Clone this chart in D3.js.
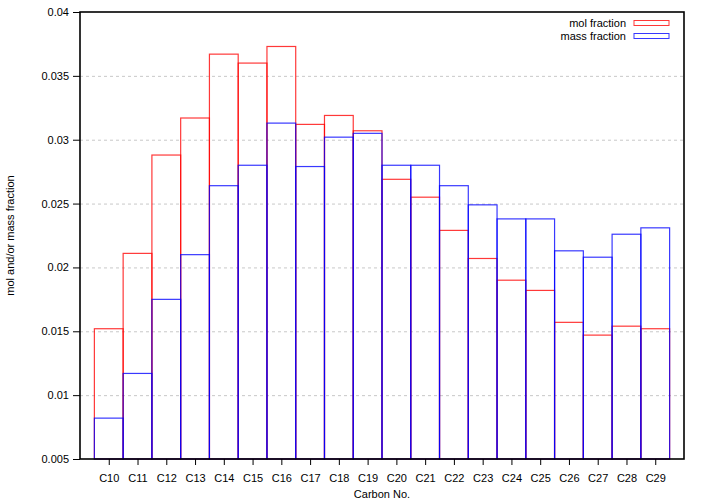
<!DOCTYPE html>
<html>
<head>
<meta charset="utf-8">
<script src="https://cdn.jsdelivr.net/npm/d3@7"></script>
<style>
  body { margin: 0; background: #fff; }
  text { font-family: "Liberation Sans", Arial, sans-serif; font-size: 11px; fill: #000; }
</style>
</head>
<body>
<svg width="705" height="504"></svg>
<script>
const categories = ['C10','C11','C12','C13','C14','C15','C16','C17','C18','C19',
                    'C20','C21','C22','C23','C24','C25','C26','C27','C28','C29'];
const molFraction = [0.0152, 0.0211, 0.0288, 0.0317, 0.0367, 0.0360, 0.0373, 0.0312, 0.0319, 0.0307,
                     0.0269, 0.0255, 0.0229, 0.0207, 0.0190, 0.0182, 0.0157, 0.0147, 0.0154, 0.0152];
const massFraction = [0.0082, 0.0117, 0.0175, 0.0210, 0.0264, 0.0280, 0.0313, 0.0279, 0.0302, 0.0305,
                      0.0280, 0.0280, 0.0264, 0.0249, 0.0238, 0.0238, 0.0213, 0.0208, 0.0226, 0.0231];
const yTicks = [0.005, 0.01, 0.015, 0.02, 0.025, 0.03, 0.035, 0.04];
const series = [
  {name: 'mol fraction', values: molFraction, color: '#ff0000'},
  {name: 'mass fraction', values: massFraction, color: '#0000ff'}
];

const svg = d3.select('svg');
const plot = {left: 80, right: 684, top: 12, bottom: 459};

const x = d3.scaleLinear().domain([-1, categories.length]).range([plot.left, plot.right]);
const y = d3.scaleLinear().domain([0.005, 0.04]).range([plot.bottom, plot.top]);

// grid
svg.append('g')
  .selectAll('line')
  .data(yTicks.slice(1, -1))
  .enter().append('line')
    .attr('x1', plot.left).attr('x2', plot.right)
    .attr('y1', d => y(d) + 0.5).attr('y2', d => y(d) + 0.5)
    .attr('stroke', '#c8c8c8')
    .attr('stroke-dasharray', '3,3');

// boxes, mass drawn over mol
const bars = svg.append('g').attr('class', 'bars');
series.forEach(s => {
  bars.append('g')
    .selectAll('rect')
    .data(s.values)
    .enter().append('rect')
      .attr('x', (d, i) => x(i - 0.5))
      .attr('width', x(0.5) - x(-0.5))
      .attr('y', d => y(d))
      .attr('height', d => plot.bottom - y(d))
      .attr('fill', 'none')
      .attr('stroke', s.color)
      .attr('stroke-opacity', 0.78)
      .attr('stroke-width', 1.2);
});

// axes
const yAxis = svg.append('g')
  .attr('transform', `translate(${plot.left},0)`)
  .call(d3.axisLeft(y).tickValues(yTicks).tickFormat(d3.format('')).tickSize(7).tickPadding(4));
const xAxis = svg.append('g')
  .attr('transform', `translate(0,${plot.bottom})`)
  .call(d3.axisBottom(x).tickValues(d3.range(categories.length))
    .tickFormat(i => categories[i]).tickSize(6).tickPadding(9));
[xAxis, yAxis].forEach(a => {
  a.select('.domain').remove();
  a.selectAll('text').style('font-size', '11px');
  a.selectAll('.tick line').attr('stroke', '#000');
});

// frame
svg.append('rect')
  .attr('x', plot.left).attr('y', plot.top)
  .attr('width', plot.right - plot.left).attr('height', plot.bottom - plot.top)
  .attr('fill', 'none')
  .attr('stroke', '#000')
  .attr('stroke-width', 1.6);

// labels
svg.append('text')
  .attr('transform', `translate(14,${(plot.top + plot.bottom) / 2}) rotate(-90)`)
  .attr('text-anchor', 'middle')
  .text('mol and/or mass fraction');
svg.append('text')
  .attr('x', (plot.left + plot.right) / 2).attr('y', 498)
  .attr('text-anchor', 'middle')
  .text('Carbon No.');

// legend
const legend = svg.append('g')
  .selectAll('g')
  .data(series)
  .enter().append('g')
    .attr('transform', (d, i) => `translate(0,${23 + i * 13})`);
legend.append('text')
  .attr('x', 626).attr('y', 4)
  .attr('text-anchor', 'end')
  .text(d => d.name);
legend.append('rect')
  .attr('x', 634).attr('y', -2.5)
  .attr('width', 35).attr('height', 5)
  .attr('fill', 'none')
  .attr('stroke', d => d.color)
  .attr('stroke-opacity', 0.78);
</script>
</body>
</html>
